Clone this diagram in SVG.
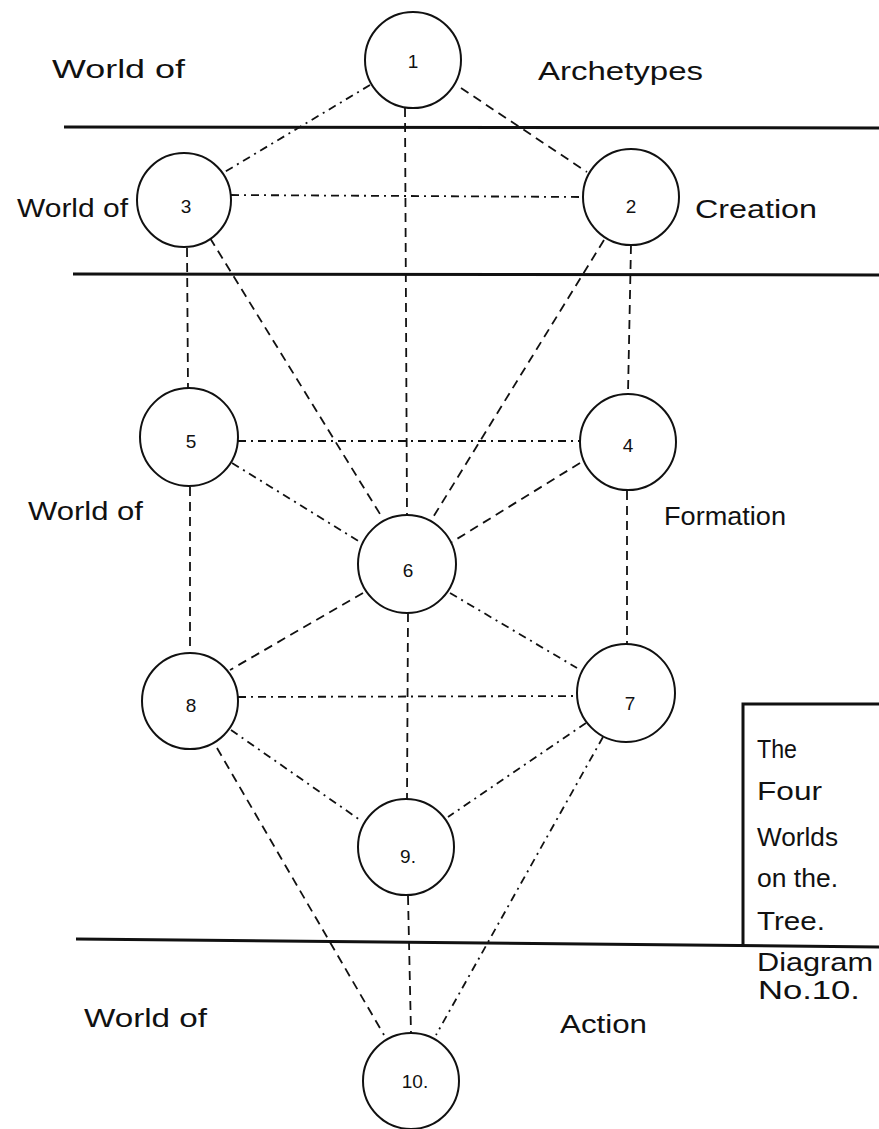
<svg xmlns="http://www.w3.org/2000/svg" width="879" height="1129" viewBox="0 0 879 1129">
<style>
  .bg { fill: #ffffff; }
  .node circle { fill: #ffffff; stroke: #111111; stroke-width: 2; }
  .node text { font-family: "Liberation Sans", Arial, sans-serif; font-size: 19px; fill: #111111; text-anchor: middle; }
  .conn line { stroke: #111111; stroke-width: 1.8; fill: none; }
  .dash { stroke-dasharray: 9 6; }
  .dashdot { stroke-dasharray: 8 5 2 5; }
  .rule { stroke: #111111; stroke-width: 3; fill: none; }
  .label { font-family: "Liberation Sans", Arial, sans-serif; font-size: 25px; fill: #111111; }
  .box { font-family: "Liberation Sans", Arial, sans-serif; font-size: 26px; fill: #111111; }
</style>
<rect class="bg" x="0" y="0" width="879" height="1129"/>

<g id="world-rules">
  <line class="rule" x1="64" y1="127" x2="879" y2="128"/>
  <line class="rule" x1="73" y1="274" x2="879" y2="275"/>
  <line class="rule" x1="76" y1="939" x2="879" y2="947"/>
</g>

<g id="title-box">
  <polyline class="rule" points="743,945 743,704 879,704"/>
  <text class="box" x="757" y="758" textLength="40" lengthAdjust="spacingAndGlyphs">The</text>
  <text class="box" x="757" y="800" textLength="65" lengthAdjust="spacingAndGlyphs">Four</text>
  <text class="box" x="757" y="846" textLength="81" lengthAdjust="spacingAndGlyphs">Worlds</text>
  <text class="box" x="757" y="887" textLength="81" lengthAdjust="spacingAndGlyphs">on the.</text>
  <text class="box" x="757" y="930" textLength="68" lengthAdjust="spacingAndGlyphs">Tree.</text>
  <text class="label" x="757" y="971" font-size="20" textLength="116" lengthAdjust="spacingAndGlyphs">Diagram</text>
  <text class="label" x="758" y="999" font-size="22" textLength="102" lengthAdjust="spacingAndGlyphs">No.10.</text>
</g>

<g id="world-labels">
  <text class="label" x="52" y="78" font-size="27" textLength="133" lengthAdjust="spacingAndGlyphs">World of</text>
  <text class="label" x="538" y="80" font-size="27" textLength="165" lengthAdjust="spacingAndGlyphs">Archetypes</text>
  <text class="label" x="17" y="217" textLength="111" lengthAdjust="spacingAndGlyphs">World of</text>
  <text class="label" x="695" y="218" textLength="122" lengthAdjust="spacingAndGlyphs">Creation</text>
  <text class="label" x="28" y="520" textLength="115" lengthAdjust="spacingAndGlyphs">World of</text>
  <text class="label" x="664" y="525" textLength="122" lengthAdjust="spacingAndGlyphs">Formation</text>
  <text class="label" x="84" y="1027" textLength="123" lengthAdjust="spacingAndGlyphs">World of</text>
  <text class="label" x="560" y="1033" textLength="87" lengthAdjust="spacingAndGlyphs">Action</text>
</g>

<g id="connectors" class="conn">
  <line class="dashdot" x1="370" y1="85" x2="223" y2="173"/>
  <line class="dash" x1="461" y1="88" x2="587" y2="172"/>
  <line class="dash" x1="405" y1="108" x2="407" y2="515"/>
  <line class="dashdot" x1="231" y1="195" x2="583" y2="197"/>
  <line class="dash" x1="187" y1="248" x2="188" y2="388"/>
  <line class="dash" x1="210" y1="238" x2="380" y2="514"/>
  <line class="dash" x1="604" y1="240" x2="432" y2="519"/>
  <line class="dash" x1="631" y1="245" x2="628" y2="393"/>
  <line class="dashdot" x1="238" y1="441" x2="580" y2="441"/>
  <line class="dashdot" x1="232" y1="463" x2="360" y2="542"/>
  <line class="dash" x1="580" y1="463" x2="452" y2="542"/>
  <line class="dash" x1="190" y1="487" x2="190" y2="653"/>
  <line class="dash" x1="627" y1="491" x2="627" y2="644"/>
  <line class="dash" x1="363" y1="593" x2="230" y2="670"/>
  <line class="dashdot" x1="450" y1="593" x2="577" y2="668"/>
  <line class="dash" x1="408" y1="613" x2="407" y2="799"/>
  <line class="dashdot" x1="238" y1="697" x2="577" y2="696"/>
  <line class="dashdot" x1="231" y1="730" x2="360" y2="820"/>
  <line class="dashdot" x1="586" y1="723" x2="448" y2="817"/>
  <line class="dash" x1="217" y1="748" x2="384" y2="1035"/>
  <line class="dashdot" x1="603" y1="737" x2="436" y2="1035"/>
  <line class="dash" x1="408" y1="896" x2="411" y2="1033"/>
</g>

<g id="node-1" class="node"><circle cx="413" cy="60" r="48"/><text x="413" y="68">1</text></g>
<g id="node-3" class="node"><circle cx="184" cy="200" r="47"/><text x="186" y="213">3</text></g>
<g id="node-2" class="node"><circle cx="631" cy="197" r="48"/><text x="631" y="213">2</text></g>
<g id="node-5" class="node"><circle cx="189" cy="437" r="49"/><text x="191" y="448">5</text></g>
<g id="node-4" class="node"><circle cx="628" cy="442" r="48"/><text x="628" y="452">4</text></g>
<g id="node-6" class="node"><circle cx="407" cy="564" r="49"/><text x="408" y="577">6</text></g>
<g id="node-8" class="node"><circle cx="190" cy="701" r="48"/><text x="191" y="712">8</text></g>
<g id="node-7" class="node"><circle cx="626" cy="693" r="49"/><text x="630" y="710">7</text></g>
<g id="node-9" class="node"><circle cx="406" cy="847" r="48"/><text x="408" y="863">9.</text></g>
<g id="node-10" class="node"><circle cx="411" cy="1081" r="48"/><text x="415" y="1088">10.</text></g>
</svg>
